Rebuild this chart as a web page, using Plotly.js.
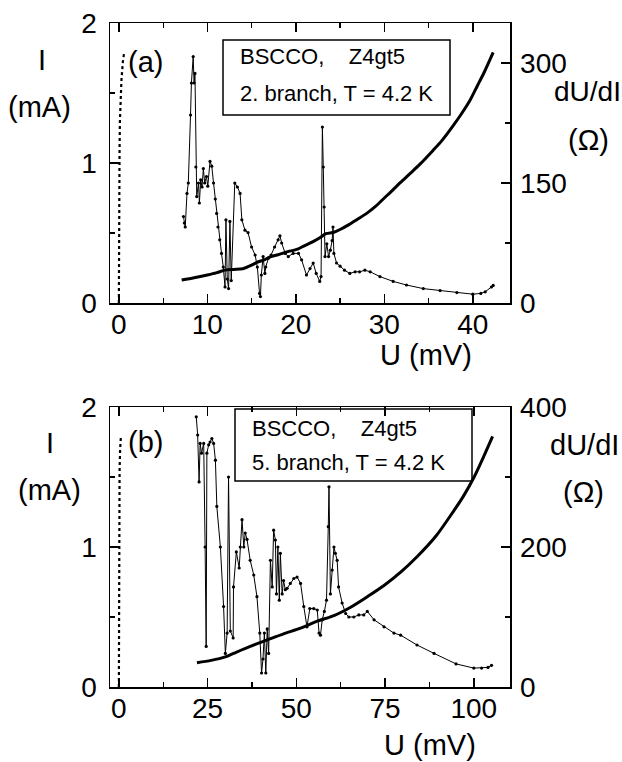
<!DOCTYPE html>
<html>
<head>
<meta charset="utf-8">
<script src="https://cdn.plot.ly/plotly-3.0.1.min.js"></script>
<style>html,body{margin:0;padding:0;background:#fff;}#chart{width:622px;height:762px;}</style>
</head>
<body>
<div id="chart"></div>
<script>
// ---------- Panel (a): 2. branch ----------
const zeroA_U = [0, 0, 0.02, 0.05, 0.08, 0.12, 0.2, 0.3, 0.45, 0.6];
const zeroA_I = [0, 0.3, 0.6, 0.9, 1.1, 1.3, 1.45, 1.6, 1.72, 1.79];

const ivA_U = [7.1, 8.5, 10, 11, 12, 13, 14, 15, 15.6, 16.5, 17.1, 18, 19, 20.2, 21, 22, 22.8, 23.4, 24.3, 25, 26, 27, 28, 29, 30, 31, 31.8, 33, 34, 35.5, 36.5, 37.7, 38.7, 39.7, 40.5, 41.3, 42.3];
const ivA_I = [0.164, 0.18, 0.20, 0.215, 0.235, 0.24, 0.245, 0.27, 0.29, 0.31, 0.33, 0.345, 0.365, 0.385, 0.41, 0.44, 0.47, 0.495, 0.505, 0.525, 0.56, 0.60, 0.64, 0.69, 0.75, 0.81, 0.86, 0.93, 0.99, 1.09, 1.16, 1.26, 1.35, 1.45, 1.55, 1.65, 1.79];

const dA_U = [7.3, 7.4, 7.5, 7.7, 7.85, 8.1, 8.2, 8.4, 8.5, 8.6, 8.7, 8.8, 9.0, 9.1, 9.25, 9.4, 9.55, 9.7, 9.9, 10.05, 10.3, 10.5, 10.7, 10.9, 11.05, 11.2, 11.4, 11.6, 11.8, 12.0, 12.1, 12.25, 12.4, 12.55, 12.7, 13.1, 13.4, 13.7, 13.9, 14.25, 14.6, 15.0, 15.4, 15.65, 15.9, 16.0, 16.1, 16.3, 16.5, 16.6, 16.9, 17.2, 17.6, 18.0, 18.2, 18.4, 18.8, 19.15, 19.7, 20.3, 20.65, 21.2, 21.6, 21.96, 22.3, 22.7, 22.85, 23.0, 23.1, 23.2, 23.3, 23.5, 23.7, 23.9, 24.1, 24.2, 24.3, 24.6, 25.0, 25.5, 26.1, 26.7, 27.2, 27.8, 28.4, 29.5, 31.0, 32.5, 34.4, 36.3, 38.2, 40.0, 40.9, 41.4, 42.1, 42.3];
const dA_R = [108, 100, 95, 137, 150, 235, 275, 308, 275, 287, 170, 133, 150, 125, 154, 145, 168, 150, 158, 146, 177, 171, 150, 130, 112, 95, 79, 62, 45, 20, 104, 30, 18, 102, 28, 150, 145, 137, 104, 91, 88, 70, 60, 45, 12, 8, 35, 58, 37, 45, 56, 60, 70, 79, 84, 75, 62, 58, 62, 62, 54, 35, 43, 50, 37, 27, 33, 220, 170, 120, 58, 74, 58, 66, 78, 95, 62, 50, 46, 41, 37, 39, 39, 41, 39, 33, 27, 22.5, 18, 15.5, 13, 11, 12, 14, 20, 22];

// ---------- Panel (b): 5. branch ----------
const zeroB_U = [0, 0, 0, 0.05, 0.1, 0.2, 0.35, 0.6];
const zeroB_I = [0, 0.4, 0.8, 1.1, 1.35, 1.55, 1.7, 1.8];

const ivB_U = [22.0, 26, 30, 32.3, 37, 41.8, 46.4, 51.2, 55.9, 60.6, 65.3, 70, 74.7, 79.4, 84, 89.4, 94.4, 97, 100.1, 102.5, 105.3];
const ivB_I = [0.174, 0.19, 0.215, 0.24, 0.29, 0.336, 0.38, 0.42, 0.47, 0.51, 0.57, 0.645, 0.725, 0.82, 0.93, 1.08, 1.26, 1.36, 1.50, 1.63, 1.79];

const dB_U = [21.8, 22.2, 22.6, 22.9, 23.3, 23.9, 24.3, 24.6, 24.8, 25.3, 25.7, 26.2, 26.7, 27.2, 27.6, 28.6, 29.5, 30.0, 30.5, 30.9, 31.4, 32.2, 32.3, 33.1, 33.9, 34.2, 34.7, 35.2, 35.6, 36.1, 37.0, 38.0, 38.9, 39.7, 40.2, 40.6, 41.0, 41.4, 41.8, 42.2, 42.7, 43.2, 43.6, 44.1, 44.4, 44.8, 45.2, 45.5, 46.0, 46.4, 46.9, 47.4, 48.3, 49.3, 50.2, 51.2, 52.1, 53.0, 53.8, 54.9, 55.9, 56.4, 56.8, 57.3, 57.9, 58.5, 59.0, 59.2, 59.6, 60.1, 60.6, 61.0, 61.5, 61.9, 62.9, 63.9, 64.8, 66.2, 67.6, 69.0, 70.0, 71.9, 74.7, 77.5, 79.4, 84, 88.8, 95, 100, 102.2, 104, 105];
const dB_R = [386, 360, 293, 348, 334, 348, 200, 58, 334, 346, 350, 355, 348, 324, 258, 200, 115, 48, 77, 300, 80, 70, 143, 193, 170, 200, 239, 200, 220, 211, 181, 160, 129, 77, 20, 40, 77, 20, 83, 48, 181, 143, 224, 210, 133, 200, 124, 191, 133, 152, 139, 141, 148, 155, 157, 148, 115, 86, 112, 112, 110, 77, 74, 96, 108, 124, 229, 286, 133, 167, 200, 191, 181, 143, 120, 105, 100, 100, 103, 103, 108, 96, 86, 77, 74, 60, 48, 33, 27, 27, 28, 31];

// ---------- tick labels ----------
const xTicksA = [0, 10, 20, 30, 40];
const xTicksB = [0, 25, 50, 75, 100];
const iTicks = [0, 1, 2];
const rTicksA = [0, 150, 300];
const rTicksB = [0, 200, 400];

const W = 622, H = 762;
const px = x => x / W;
const py = y => 1 - y / H;
const FONT = 'Liberation Sans, Arial, Helvetica, sans-serif';

const ivLine = {color: 'black', width: 3, shape: 'spline', smoothing: 0.8};
const zeroLine = {color: 'black', width: 2.2, dash: 'dot'};
const dLine = {color: 'black', width: 1};
const dMarker = {color: 'black', size: 3.2};

const traces = [
  {x: zeroA_U, y: zeroA_I, xaxis: 'x', yaxis: 'y', mode: 'lines', line: zeroLine},
  {x: ivA_U, y: ivA_I, xaxis: 'x', yaxis: 'y', mode: 'lines', line: ivLine},
  {x: dA_U, y: dA_R, xaxis: 'x', yaxis: 'y2', mode: 'lines+markers', line: dLine, marker: dMarker},
  {x: zeroB_U, y: zeroB_I, xaxis: 'x2', yaxis: 'y3', mode: 'lines', line: zeroLine},
  {x: ivB_U, y: ivB_I, xaxis: 'x2', yaxis: 'y3', mode: 'lines', line: ivLine},
  {x: dB_U, y: dB_R, xaxis: 'x2', yaxis: 'y4', mode: 'lines+markers', line: dLine, marker: dMarker}
];

function ax(extra) {
  return Object.assign({
    showline: true, linecolor: 'black', linewidth: 1.5,
    ticks: 'inside', ticklen: 9, tickwidth: 1.5, tickcolor: 'black',
    showgrid: false, zeroline: false,
    tickfont: {family: FONT, size: 28, color: 'black'}
  }, extra);
}
function minor(d) { return {dtick: d, tick0: 0, ticks: 'inside', ticklen: 5, tickwidth: 1.2, tickcolor: 'black', showgrid: false}; }

const layout = {
  width: W, height: H,
  margin: {l: 0, r: 0, t: 0, b: 0},
  paper_bgcolor: 'white', plot_bgcolor: 'white',
  showlegend: false,
  font: {family: FONT, color: 'black', size: 28},
  xaxis: ax({domain: [px(110), px(510)], anchor: 'y', range: [-1, 44.2], tickvals: xTicksA, minor: minor(5), mirror: 'ticks', ticklabelstandoff: -4}),
  yaxis: ax({domain: [py(303), py(23)], anchor: 'x', range: [0, 2], tickvals: iTicks, minor: minor(0.5), ticklabelstandoff: 6}),
  yaxis2: ax({overlaying: 'y', side: 'right', anchor: 'x', range: [0, 350], tickvals: rTicksA, minor: minor(75), ticklabelstandoff: 3}),
  xaxis2: ax({domain: [px(110), px(510)], anchor: 'y3', range: [-2.5, 110.2], tickvals: xTicksB, minor: minor(12.5), mirror: 'ticks', ticklabelstandoff: -4}),
  yaxis3: ax({domain: [py(687), py(407)], anchor: 'x2', range: [0, 2], tickvals: iTicks, minor: minor(0.5), ticklabelstandoff: 6}),
  yaxis4: ax({overlaying: 'y3', side: 'right', anchor: 'x2', range: [0, 400], tickvals: rTicksB, minor: minor(100), ticklabelstandoff: 3}),
  shapes: [
    {type: 'rect', xref: 'paper', yref: 'paper', x0: px(223), x1: px(450), y0: py(115), y1: py(40), line: {color: 'black', width: 1.5}, fillcolor: 'white', layer: 'below'},
    {type: 'rect', xref: 'paper', yref: 'paper', x0: px(235), x1: px(472), y0: py(481), y1: py(409), line: {color: 'black', width: 1.5}, fillcolor: 'white', layer: 'below'}
  ],
  annotations: []
};

function note(text, x, y, size, xanchor) {
  layout.annotations.push({text: text, xref: 'paper', yref: 'paper', x: px(x), y: py(y),
    xanchor: xanchor || 'center', yanchor: 'middle', showarrow: false,
    font: {family: FONT, size: size, color: 'black'}});
}
const T = 29, L = 22;
// panel a labels
note('I', 42, 60, T);
note('(mA)', 39, 107, T);
note('dU/dI', 587, 92, 28);
note('(\u03A9)', 588, 140, T);
note('U (mV)', 474, 355, T, 'right');
note('(a)', 126, 62, T, 'left');
note('BSCCO,\u00a0\u00a0\u00a0\u00a0Z4gt5', 238, 57, L, 'left');
note('2. branch, T = 4.2 K', 238, 93, L, 'left');
// panel b labels
note('I', 50, 443, T);
note('(mA)', 49, 490, T);
note('dU/dI', 584, 445, T);
note('(\u03A9)', 583, 492, T);
note('U (mV)', 478, 745, T, 'right');
note('(b)', 126, 442, T, 'left');
note('BSCCO,\u00a0\u00a0\u00a0\u00a0Z4gt5', 250, 428, L, 'left');
note('5. branch, T = 4.2 K', 250, 463, L, 'left');

Plotly.newPlot('chart', traces, layout, {staticPlot: true, displayModeBar: false});
</script>
</body>
</html>
